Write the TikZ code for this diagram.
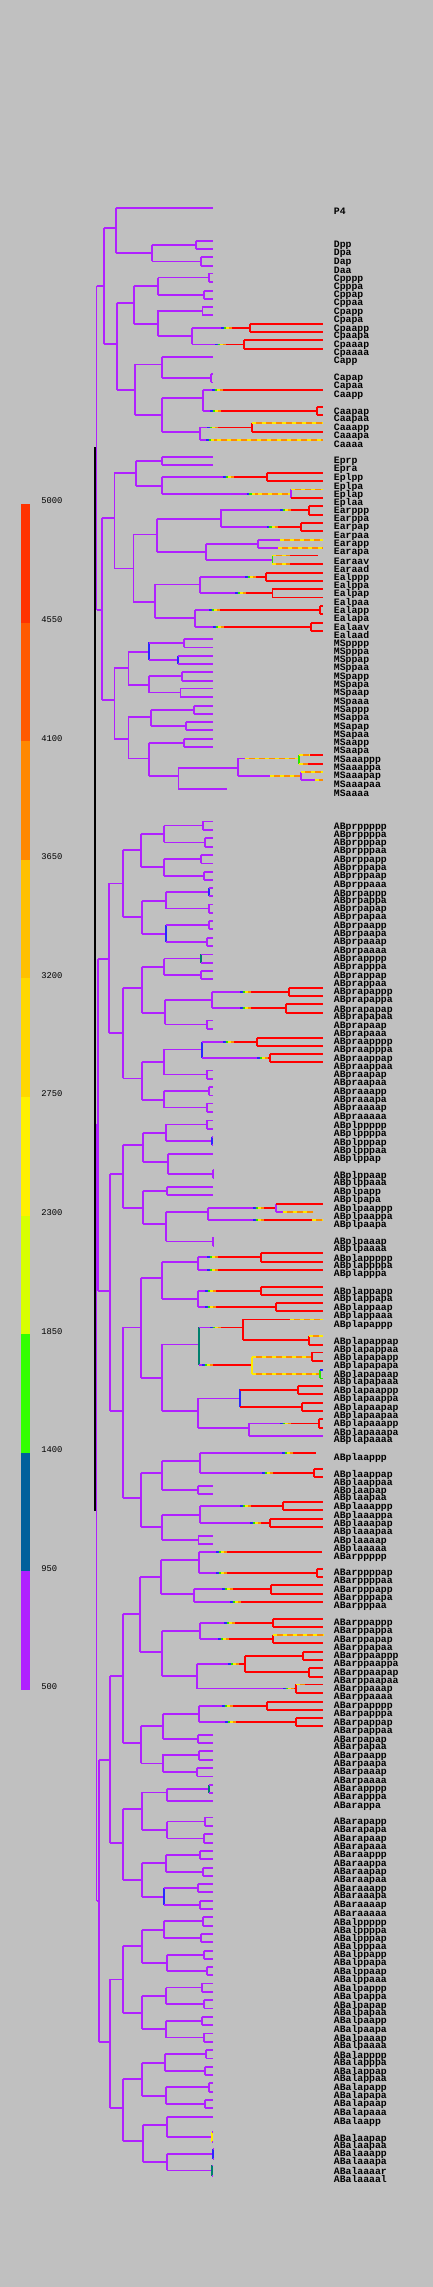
\documentclass[tikz,border=0pt]{standalone}
\usepackage{fontspec}
\newfontfamily\labfont{Liberation Mono}
\definecolor{bg}{RGB}{192,192,192}
\definecolor{purp}{RGB}{176,32,255}
\definecolor{hotred}{RGB}{255,0,0}
\definecolor{rampB}{RGB}{40,40,255}
\definecolor{rampG}{RGB}{40,230,0}
\definecolor{rampY}{RGB}{255,235,0}
\definecolor{rampO}{RGB}{255,140,0}
\definecolor{tealc}{RGB}{0,128,110}
\definecolor{scA}{RGB}{255,51,0}
\definecolor{scB}{RGB}{255,90,0}
\definecolor{scC}{RGB}{255,136,0}
\definecolor{scD}{RGB}{255,192,0}
\definecolor{scE}{RGB}{255,215,0}
\definecolor{scF}{RGB}{255,240,0}
\definecolor{scG}{RGB}{216,255,0}
\definecolor{scH}{RGB}{51,255,0}
\definecolor{scI}{RGB}{0,96,156}
\definecolor{scJ}{RGB}{176,32,255}
\tikzset{
  br/.style={line width=0.8pt},
  hot/.style={line width=0.8pt, draw=hotred},
  rootln/.style={line width=0.8pt, draw=black},
  lab/.style={anchor=west, inner sep=0pt, font=\labfont\bfseries\fontsize{4.9}{5}\selectfont},
  barlab/.style={anchor=west, inner sep=0pt, font=\labfont\fontsize{4.4}{5}\selectfont},
}
% horizontal / vertical pieces of the tree (x in px, y in px downwards)
\newcommand\hl[4][purp]{\draw[br,draw=#1] ({#2},{#4}) -- ({#3},{#4});}
\newcommand\vl[4][purp]{\draw[br,draw=#1] ({#2},{#3}) -- ({#2},{#4});}
\newcommand\rl[3]{\draw[hot] ({#1},{#3}) -- ({#2},{#3});}
\newcommand\rv[3]{\draw[hot] ({#1},{#2}) -- ({#1},{#3});}
\newcommand\warm[3]{\draw[br,draw=rampO] ({#1},{#3}) -- ({#2},{#3});
  \draw[br,draw=rampY,dash pattern=on 2pt off 3pt] ({#1},{#3}) -- ({#2},{#3});}
\newcommand\ramp[2]{\draw[br,draw=rampB] ({#1},{#2}) -- ({#1+2.5},{#2});
  \draw[br,draw=rampG] ({#1+2.5},{#2}) -- ({#1+5},{#2});
  \draw[br,draw=rampY] ({#1+5},{#2}) -- ({#1+8},{#2});
  \draw[br,draw=rampO] ({#1+8},{#2}) -- ({#1+11},{#2});}
\newcommand\hot[4]{\hl{#1}{#2}{#4}\ramp{#2}{#4}\rl{#2+11}{#3}{#4}}
\newcommand\hotpair[5]{\hot{#1}{#2}{#3}{(#4+#5)/2}\rv{#3}{#4}{#5}\rl{#3}{323}{#4}\rl{#3}{323}{#5}}
\newcommand\rpair[4]{\rl{#1}{#2}{(#3+#4)/2}\rv{#2}{#3}{#4}\rl{#2}{323}{#3}\rl{#2}{323}{#4}}
\newcommand\nd[6][purp]{\hl{#2}{#3}{#4}\vl[#1]{#3}{#5}{#6}}
\newcommand\twig[5][purp]{\hl{#2}{#3}{(#4+#5)/2}\vl[#1]{#3}{#4}{#5}\hl{#3}{213}{#4}\hl{#3}{213}{#5}}
\begin{document}
\begin{tikzpicture}[x=0.5pt,y=-0.5pt]
\fill[bg] (0,0) rectangle (433,2287);
\useasboundingbox (0,0) rectangle (433,2287);

% colour scale
\foreach \c [count=\k from 0] in {scA,scB,scC,scD,scE,scF,scG,scH,scI,scJ}
  \fill[\c] (21,{504+\k*118.6}) rectangle (30,{504+(\k+1)*118.6});
\foreach \v [count=\k from 0] in {5000,4550,4100,3650,3200,2750,2300,1850,1400,950,500}
  \node[barlab] (tick\k) at (41,{501+\k*118.6}) {\v};

% root, P1
\draw[rootln] (95,447) -- (95,1511);
\vl{96.5}{285.7}{610}
\nd{96.5}{104}{285.7}{227.7}{344}
\nd{104}{115.7}{227.7}{207.7}{252.7}
\hl{115.7}{213}{207.7}
\nd{115.7}{151.7}{252.7}{245}{261}
\twig{151.7}{195.7}{240.7}{249}
\twig{151.7}{201}{256.7}{266}
% C
\nd{104}{116.7}{344}{302.7}{390}
\nd{116.7}{133.7}{302.7}{286}{324}
\nd{133.7}{157.7}{286}{277.7}{295}
\twig{157.7}{209}{273.3}{282}
\twig{157.7}{203.7}{290.7}{299}
\nd{133.7}{157.7}{324}{310.3}{335.7}
\twig{157.7}{202.3}{306.7}{315}
\nd{157.7}{192}{335.7}{327.7}{344}
\hotpair{192}{221}{249.7}{324}{332}
\hotpair{192}{215}{244}{340}{348.7}
\nd{116.7}{134.7}{390}{364.3}{415}
\nd{134.7}{161.7}{364.3}{356.7}{378.3}
\hl{161.7}{213}{356.7}
\twig{161.7}{211}{374}{382.3}
\nd{134.7}{161.7}{415}{397.7}{432}
\nd{161.7}{202.7}{397.7}{390}{411}
\hot{202.7}{212}{323}{390}
\hotpair{202.7}{210}{316.7}{406.7}{414.7}
\nd{161.7}{199.7}{432}{427}{440}
\hotpair{199.7}{207}{251.7}{422.7}{432}
\warm{251.7}{323}{422.7}
\hot{199.7}{206}{323}{440}
\warm{217}{323}{440}

% EMS
\nd{96.5}{101.7}{610}{518}{700}
% E
\nd{101.7}{114.3}{518}{472.7}{568.3}
\nd{114.3}{135.7}{472.7}{460.7}{486}
\twig{135.7}{161.7}{456.7}{465}
\nd{135.7}{161.7}{486}{476.7}{494}
\hotpair{161.7}{223}{266.7}{472.7}{481}
\hot{161.7}{246.7}{291}{494}
\warm{258}{291}{494}
\vl{291}{489.3}{498}
\warm{291}{323}{489.3}
\rl{291}{323}{498}
\nd{114.3}{133.3}{568.3}{534.3}{602}
\nd{133.3}{156.7}{534.3}{518.7}{551.7}
\nd{156.7}{220.7}{518.7}{509.3}{526.7}
\hotpair{220.7}{280}{309}{505.7}{514.7}
\hotpair{220.7}{266.7}{301}{522.7}{531}
\nd{156.7}{206}{551.7}{543.7}{560}
\hl{206}{257.7}{543.7}
\vl{257.7}{539.7}{547.7}
\hl{257.7}{280}{539.7}
\warm{280}{323}{539.7}
\hl{257.7}{278}{547.7}
\warm{278}{323}{547.7}
\hl{206}{272.3}{560}
\vl[rampG]{272.3}{555.3}{564}
\warm{272.3}{290}{555.3}
\rl{290}{318}{555.3}
\warm{272.3}{290}{564}
\rl{290}{323}{564}
\nd{133.3}{155}{602}{584.3}{618}
\nd{155}{200}{584.3}{576.7}{592.7}
\hotpair{200}{245}{266}{572.7}{580.7}
\hotpair{200}{235}{272.3}{589}{597.3}
\nd{155}{195}{618}{610}{627}
\hotpair{195}{209}{320}{605.7}{614}
\hotpair{195}{213}{311}{622.7}{631}
% MS
\nd{101.7}{114.3}{700}{667.7}{739}
\nd{114.3}{128.3}{667.7}{651.7}{685}
\nd[rampB]{128.3}{148.7}{651.7}{642.3}{660}
\twig{148.7}{183.7}{638.7}{647.3}
\twig[rampB]{148.7}{177.7}{655.7}{664}
\nd{128.3}{148.7}{685}{675.7}{692.7}
\twig{148.7}{181.7}{671.7}{680.7}
\twig{148.7}{180.3}{688.3}{696.7}
\nd{114.3}{128.3}{739}{716.7}{758.3}
\nd{128.3}{150.7}{716.7}{710}{725.7}
\twig{150.7}{193.7}{705.7}{713.7}
\twig{150.7}{185.7}{722}{730}
\nd{128.3}{148.7}{758.3}{743}{775.7}
\twig{148.7}{183.7}{739}{747}
\nd{148.7}{178.3}{775.7}{767.7}{789}
\nd{178.3}{237.7}{767.7}{758.3}{775.7}
\hl{237.7}{245}{758.3}
\warm{245}{299}{758.3}
\vl[rampG]{299}{754.7}{763.7}
\warm{299}{310}{754.7}
\rl{310}{323}{754.7}
\warm{299}{308}{763.7}
\rl{308}{323}{763.7}
\hl{237.7}{270}{775.7}
\warm{270}{301}{775.7}
\vl{301}{771.7}{780}
\warm{301}{323}{771.7}
\hl{301}{315}{780}
\warm{315}{323}{780}
\hl{178.3}{226.7}{789}

% AB
\vl{96.5}{1124}{1901}
% ABp
\hl{96.5}{98}{1124}
\vl{98}{959}{1291}
% ABpr
\nd{98}{109}{959}{883.3}{1032.7}
\nd{109}{122.7}{883.3}{850}{916.7}
\nd{122.7}{140.7}{850}{833.7}{866.7}
\nd{140.7}{163.7}{833.7}{825.7}{841.7}
\twig{163.7}{202.7}{821.3}{830}
\twig{163.7}{204.7}{838}{846.7}
\nd{140.7}{163.7}{866.7}{858.7}{876}
\twig{163.7}{200.7}{854.7}{863.3}
\twig{163.7}{203.7}{871.7}{880}
\nd{122.7}{141.7}{916.7}{900.7}{933.7}
\nd{141.7}{165.7}{900.7}{891.7}{908.7}
\twig[rampB]{165.7}{208.7}{887.7}{896}
\twig{165.7}{208.7}{904.3}{912.7}
\nd[rampB]{141.7}{165.7}{933.7}{924.7}{941.7}
\twig{165.7}{208.7}{920.7}{929}
\twig{165.7}{206.7}{937.7}{945.7}
\nd{109}{122.7}{1032.7}{987.7}{1078.3}
\nd{122.7}{141.7}{987.7}{966.7}{1012.7}
\nd{141.7}{163.7}{966.7}{959}{974.7}
\twig[tealc]{163.7}{200.7}{954.3}{963}
\twig{163.7}{200.7}{971}{979}
\nd{141.7}{164.7}{1012.7}{1000}{1024.3}
\nd{164.7}{211.7}{1000}{991.7}{1008}
\hotpair{211.7}{240}{288.7}{987.7}{995.7}
\hotpair{211.7}{240}{285.7}{1003.7}{1012.7}
\twig{164.7}{206.7}{1020.3}{1029}
\nd{122.7}{141.7}{1078.3}{1061.7}{1100}
\nd{141.7}{163.7}{1061.7}{1049.3}{1074.7}
\nd[rampB]{163.7}{201.7}{1049.3}{1041.7}{1057.7}
\hotpair{201.7}{223}{256.7}{1037.7}{1045.7}
\hotpair{201.7}{257}{270}{1053.7}{1062}
\twig{163.7}{206.7}{1070.3}{1078.7}
\nd{141.7}{163.7}{1100}{1090.7}{1107.7}
\twig{163.7}{209}{1086.7}{1095.3}
\twig{163.7}{206.7}{1103.3}{1112}
% ABpl
\nd{98}{110}{1291}{1173.7}{1410.7}
\nd{110}{122.7}{1173.7}{1144.7}{1207.7}
\nd{122.7}{142.7}{1144.7}{1132.7}{1162}
\nd{142.7}{165.7}{1132.7}{1124.3}{1140.7}
\twig{165.7}{206.7}{1120.3}{1129}
\twig[rampB]{165.7}{211.7}{1136.7}{1145}
\nd{142.7}{167.7}{1162}{1153.7}{1173.7}
\hl{167.7}{213}{1153.7}
\twig{167.7}{212.7}{1170}{1178.3}
\nd{122.7}{142.7}{1207.7}{1190.7}{1224}
\twig{142.7}{166.7}{1186.7}{1195}
\nd{142.7}{165.7}{1224}{1211.7}{1240.7}
\nd{165.7}{207.7}{1211.7}{1207.7}{1220}
\hot{207.7}{253}{276}{1207.7}
\vl{276}{1203.7}{1211.7}
\rl{276}{323}{1203.7}
\hl{276}{283}{1211.7}
\warm{283}{313}{1211.7}
\hot{207.7}{253}{323}{1220}
\warm{312}{323}{1220}
\twig{165.7}{212.7}{1237.3}{1245.7}
\nd{110}{122.7}{1410.7}{1327.3}{1497.7}
\nd{122.7}{140.7}{1327.3}{1277.7}{1377.7}
\nd{140.7}{161.7}{1277.7}{1261.7}{1299}
\nd{161.7}{197.7}{1261.7}{1256.7}{1270}
\hotpair{197.7}{207}{260.7}{1252.7}{1261.7}
\hot{197.7}{207}{323}{1270}
\nd{161.7}{197.7}{1299}{1291}{1306.7}
\hotpair{197.7}{205}{260.7}{1286.7}{1295}
\hotpair{197.7}{205}{276}{1302.7}{1310.7}
\nd{140.7}{161.7}{1377.7}{1344.3}{1410.7}
\nd[tealc]{161.7}{199}{1344.3}{1327.3}{1365}
\hot{199}{210}{242.7}{1327.3}
\rv{242.7}{1319.3}{1340}
\rl{242.7}{290}{1319.3}
\warm{290}{323}{1319.3}
\rl{242.7}{309}{1340}
\rv{309}{1335.7}{1344.7}
\warm{309}{323}{1335.7}
\rl{309}{323}{1344.7}
\hot{199}{202}{251.7}{1365}
\vl[rampY]{251.7}{1356.7}{1374}
\warm{251.7}{311.7}{1356.7}
\rv{311.7}{1352.3}{1361}
\rl{311.7}{323}{1352.3}
\rl{311.7}{323}{1361}
\warm{251.7}{320}{1374}
\vl[rampG]{320}{1370}{1378.3}
\hl[rampB]{320}{323}{1370}
\hl[rampG]{320}{323}{1378.3}
\nd{161.7}{197.7}{1410.7}{1398.3}{1427.7}
\nd[rampB]{197.7}{240}{1398.3}{1389.3}{1406.7}
\rpair{240}{297.7}{1385.7}{1394}
\rpair{240}{301.7}{1402.7}{1411}
\nd{197.7}{249}{1427.7}{1422.7}{1436}
\hotpair{249}{280}{319}{1419}{1427.7}
\hl{249}{323}{1436}
\nd{122.7}{140.7}{1497.7}{1472.7}{1526.7}
\nd{140.7}{161.7}{1472.7}{1460.7}{1490}
\nd{161.7}{200}{1460.7}{1452.7}{1473.3}
\hot{200}{282}{315.7}{1452.7}
\hotpair{200}{262}{314}{1468.7}{1476.7}
\twig{161.7}{197.7}{1485.7}{1493.7}
\nd{140.7}{161.7}{1526.7}{1515}{1540}
\nd{161.7}{200}{1515}{1505.7}{1523.3}
\hotpair{200}{240}{282.7}{1501.7}{1510}
\hotpair{200}{250}{270}{1518.7}{1526.7}
\twig{161.7}{198.3}{1535.7}{1543.7}

% ABa
\nd{96.5}{99}{1901}{1760}{2042}
% ABar
\nd{99}{110}{1760}{1676}{1842.7}
\nd{110}{122.7}{1676}{1613.7}{1742.7}
\nd{122.7}{140}{1613.7}{1576.7}{1651.7}
\nd{140}{160.7}{1576.7}{1560}{1593.7}
\nd{160.7}{199}{1560}{1552}{1572.7}
\hot{199}{216}{321.7}{1552}
\hotpair{199}{216}{316.7}{1569}{1577}
\nd{160.7}{193.7}{1593.7}{1589}{1601.7}
\hotpair{193.7}{222}{270.7}{1584.7}{1593.7}
\hot{193.7}{230}{323}{1601.7}
\nd{140}{161.7}{1651.7}{1630.7}{1675.7}
\nd{161.7}{200}{1630.7}{1622.7}{1638.7}
\hotpair{200}{224}{272.7}{1618.7}{1626.7}
\hotpair{200}{218}{272.7}{1634.7}{1642.7}
\warm{272.7}{323}{1634.7}
\nd{161.7}{196.7}{1675.7}{1664}{1688.7}
\hot{196.7}{228}{245}{1664}
\rv{245}{1655.7}{1672}
\rpair{245}{302.7}{1651.7}{1660}
\rpair{245}{309}{1667.7}{1676.7}
\hotpair{196.7}{283}{296}{1684.3}{1692.7}
\warm{296}{305}{1684.3}
\nd{122.7}{140.7}{1742.7}{1725.7}{1763.3}
\nd{140.7}{162.7}{1725.7}{1714}{1739}
\nd{162.7}{198.7}{1714}{1706}{1722}
\hotpair{198.7}{222}{266.7}{1702}{1710}
\hotpair{198.7}{225}{296}{1717.7}{1725.7}
\twig{162.7}{198}{1734.7}{1743}
\nd{140.7}{162.7}{1763.3}{1754.3}{1772}
\twig{162.7}{199}{1750.7}{1759.7}
\twig{162.7}{196.7}{1767.7}{1776.3}
\nd{110}{122.7}{1842.7}{1809}{1880}
\nd{122.7}{141.7}{1809}{1792.3}{1830}
\nd{141.7}{166.7}{1792.3}{1788.7}{1800.7}
\twig[tealc]{166.7}{209}{1784.7}{1793}
\hl{166.7}{213}{1800.7}
\nd{141.7}{166.7}{1830}{1821.7}{1837.7}
\twig{166.7}{204.7}{1817.3}{1826}
\twig{166.7}{203.7}{1834}{1842.7}
\nd{122.7}{141.7}{1880}{1862.7}{1896.7}
\nd{141.7}{165.7}{1862.7}{1854.7}{1871.7}
\twig{165.7}{199.7}{1850.7}{1859}
\twig{165.7}{202.7}{1867.7}{1875.7}
\nd[rampB]{141.7}{163.7}{1896.7}{1888.3}{1904.7}
\twig{163.7}{197.7}{1883.7}{1891.7}
\twig{163.7}{199.7}{1900.7}{1909}
% ABal
\nd{99}{110}{2042}{1979.3}{2107.7}
\nd{110}{122.7}{1979.3}{1945.7}{2012.7}
\nd{122.7}{141.7}{1945.7}{1929.7}{1962.7}
\nd{141.7}{163.7}{1929.7}{1920.7}{1937.7}
\twig{163.7}{202.7}{1916.7}{1925.7}
\twig{163.7}{200.7}{1933.7}{1942}
\nd{141.7}{166.7}{1962.7}{1954.7}{1970.7}
\twig{166.7}{203.7}{1950.7}{1958.7}
\twig{166.7}{206.7}{1966.7}{1975}
\nd{122.7}{141.7}{2012.7}{1995.7}{2028.7}
\nd{141.7}{165.7}{1995.7}{1987.7}{2004}
\twig{165.7}{201.7}{1983.3}{1992}
\twig{165.7}{203.7}{1999.7}{2008.3}
\nd{141.7}{165.7}{2028.7}{2020.7}{2037.7}
\twig{165.7}{201.7}{2016.7}{2025}
\twig{165.7}{203.7}{2033.3}{2042}
\nd{110}{122.7}{2107.7}{2078.7}{2141}
\nd{122.7}{141.7}{2078.7}{2062.7}{2095.7}
\nd{141.7}{164.7}{2062.7}{2053.7}{2070.7}
\twig{164.7}{205.7}{2049.7}{2058.3}
\twig{164.7}{204.7}{2066.7}{2075}
\nd{141.7}{165.7}{2095.7}{2086.7}{2104}
\twig{165.7}{208.7}{2082.7}{2091.7}
\twig{165.7}{204.7}{2099.7}{2107.7}
\nd{122.7}{142.7}{2141}{2124.7}{2161.7}
\nd{142.7}{166.7}{2124.7}{2116.7}{2136.7}
\hl{166.7}{213}{2116.7}
\twig[rampY]{166.7}{212}{2132}{2141.7}
\nd{142.7}{166.7}{2161.7}{2153.7}{2169.7}
\twig[rampB]{166.7}{212.7}{2149}{2158.7}
\twig[tealc]{166.7}{212}{2165.3}{2175.7}

% cell names
\foreach \txt/\yy [count=\i] in {P4/211.7, Dpp/245.7, Dpa/253.3, Dap/262.3, Daa/270,
  Cpppp/279, Cpppa/287.3, Cppap/295.7, Cppaa/303.3, Cpapp/312.3, Cpapa/320.3,
  Cpaapp/329, Cpaapa/336.3, Cpaaap/345.3, Cpaaaa/353.3, Capp/361.7, Capap/378.3,
  Capaa/386.7, Caapp/395.7, Caapap/412, Caapaa/419.3, Caaapp/428.7, Caaapa/436,
  Caaaa/444.3, Eprp/461.7, Epra/469.3, Eplpp/478.3, Eplpa/486.7, Eplap/494.7,
  Eplaa/502.7, Earppp/511.7, Earppa/519.3, Earpap/527.7, Earpaa/536, Earapp/544.3,
  Earapa/552.7, Earaav/561, Earaad/569, Ealppp/577.7, Ealppa/585.7, Ealpap/594.3,
  Ealpaa/602.7, Ealapp/611, Ealapa/619.3, Ealaav/626.7, Ealaad/635.3,
  MSpppp/644.3, MSpppa/652.3, MSppap/660.3, MSppaa/668.3, MSpapp/677.7,
  MSpapa/685.7, MSpaap/693.7, MSpaaa/702.3, MSappp/710, MSappa/718.3,
  MSapap/727.3, MSapaa/735.3, MSaapp/743.7, MSaapa/751.7, MSaaappp/760,
  MSaaappa/768.3, MSaaapap/776.7, MSaaapaa/785, MSaaaa/793.3,
  ABprppppp/827.3, ABprppppa/835, ABprpppap/843.3, ABprpppaa/851.7,
  ABprppapp/860, ABprppapa/868.3, ABprppaap/876.7, ABprppaaa/885,
  ABprpappp/894, ABprpappa/901.7, ABprpapap/909.3, ABprpapaa/917.7,
  ABprpaapp/926.7, ABprpaapa/934.3, ABprpaaap/942.7, ABprpaaaa/951.3,
  ABprapppp/959.3, ABprapppa/967.7, ABprappap/976.7, ABprappaa/984.3,
  ABprapappp/992.7, ABprapappa/1000.7, ABprapapap/1010, ABprapapaa/1017.7,
  ABprapaap/1026, ABprapaaa/1034.3, ABpraapppp/1042.7, ABpraapppa/1050.7,
  ABpraappap/1059.3, ABpraappaa/1067.3, ABpraapap/1075.7, ABpraapaa/1083.7,
  ABpraaapp/1092.7, ABpraaapa/1100.7, ABpraaaap/1108.3, ABpraaaaa/1117.3,
  ABplppppp/1125.7, ABplppppa/1134, ABplpppap/1142.7, ABplpppaa/1150.7,
  ABplppap/1159, ABplppaap/1175.7, ABplppaaa/1183.3, ABplpapp/1191.7,
  ABplpapa/1200.3, ABplpaappp/1209, ABplpaappa/1216.7, ABplpaapa/1225.3,
  ABplpaaap/1241.7, ABplpaaaa/1249.3, ABplappppp/1258.7, ABplappppa/1266.3,
  ABplapppa/1274.3, ABplappapp/1291.7, ABplappapa/1299.3, ABplappaap/1308.3,
  ABplappaaa/1316, ABplapappp/1325, ABplapappap/1341.7, ABplapappaa/1349.7,
  ABplapapapp/1357.7, ABplapapapa/1366.3, ABplapapaap/1374.7, ABplapapaaa/1382.3,
  ABplapaappp/1391, ABplapaappa/1399.3, ABplapaapap/1407.7, ABplapaapaa/1415.7,
  ABplapaaapp/1424.3, ABplapaaapa/1432.7, ABplapaaaa/1440, ABplaappp/1457.7,
  ABplaappap/1474.7, ABplaappaa/1482.7, ABplaapap/1491, ABplaapaa/1498.3,
  ABplaaappp/1507.3, ABplaaappa/1515.7, ABplaaapap/1523.7, ABplaaapaa/1532.3,
  ABplaaaap/1540.7, ABplaaaaa/1548.7, ABarppppp/1557.7, ABarppppap/1573.7,
  ABarppppaa/1581.3, ABarpppapp/1590.7, ABarpppapa/1598.7, ABarpppaa/1606.7,
  ABarppappp/1623.7, ABarppappa/1631.3, ABarppapap/1640.3, ABarppapaa/1648.3,
  ABarppaappp/1656.7, ABarppaappa/1664.7, ABarppaapap/1673.7, ABarppaapaa/1681.7,
  ABarppaaap/1689.7, ABarppaaaa/1697.7, ABarpapppp/1706.7, ABarpapppa/1714.7,
  ABarpappap/1723.7, ABarpappaa/1731.7, ABarpapap/1740, ABarpapaa/1747.7,
  ABarpaapp/1756, ABarpaapa/1764.3, ABarpaaap/1772.7, ABarpaaaa/1781.3,
  ABarapppp/1789.3, ABarapppa/1797.7, ABarappa/1806.7, ABarapapp/1822.3,
  ABarapapa/1830.3, ABarapaap/1839.3, ABarapaaa/1847, ABaraappp/1855.7,
  ABaraappa/1864.3, ABaraapap/1872.7, ABaraapaa/1880.7, ABaraaapp/1889,
  ABaraaapa/1896.7, ABaraaaap/1905.3, ABaraaaaa/1913.3, ABalppppp/1922.7,
  ABalppppa/1930.7, ABalpppap/1938.7, ABalpppaa/1947, ABalppapp/1955.3,
  ABalppapa/1963.3, ABalppaap/1972.3, ABalppaaa/1980.3, ABalpappp/1988.7,
  ABalpappa/1996.7, ABalpapap/2005.7, ABalpapaa/2013.3, ABalpaapp/2021.3,
  ABalpaapa/2030, ABalpaaap/2038.7, ABalpaaaa/2046.3, ABalapppp/2055.7,
  ABalapppa/2063.3, ABalappap/2071.7, ABalappaa/2079.3, ABalapapp/2088.3,
  ABalapapa/2096.3, ABalapaap/2104.3, ABalapaaa/2113, ABalaapp/2121.7,
  ABalaapap/2138.7, ABalaapaa/2146.3, ABalaaapp/2154, ABalaaapa/2162,
  ABalaaaar/2170.7, ABalaaaal/2179}
  \node[lab] (lab\i) at (333.5,\yy) {\txt};
\end{tikzpicture}
\end{document}
